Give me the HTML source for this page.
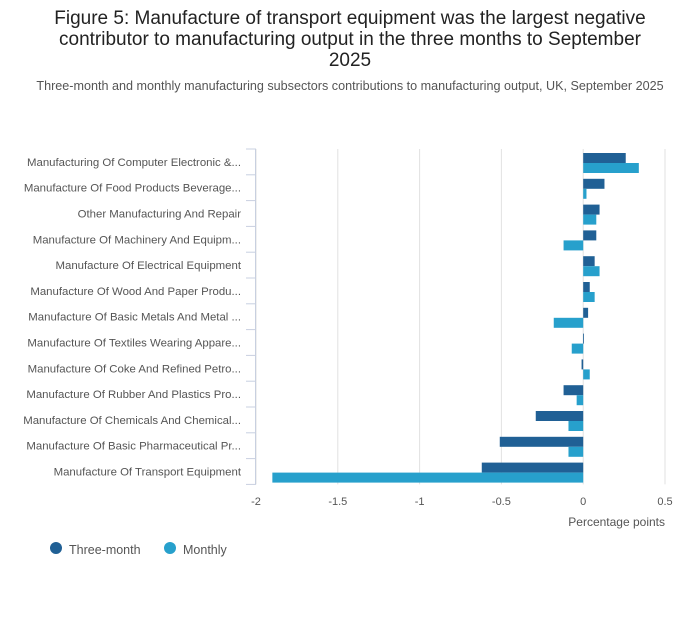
<!DOCTYPE html>
<html><head><meta charset="utf-8"><style>
body{margin:0;background:#fff;font-family:"Liberation Sans",sans-serif;}
svg text{font-family:"Liberation Sans",sans-serif;}
</style></head><body>
<svg width="700" height="635">
<text x="350" y="24" text-anchor="middle" font-size="19" fill="#222">Figure 5: Manufacture of transport equipment was the largest negative</text>
<text x="350" y="45" text-anchor="middle" font-size="19" fill="#222">contributor to manufacturing output in the three months to September</text>
<text x="350" y="66" text-anchor="middle" font-size="19" fill="#222">2025</text>
<text x="350" y="90" text-anchor="middle" font-size="12.6" fill="#555">Three-month and monthly manufacturing subsectors contributions to manufacturing output, UK, September 2025</text>
<g id="grid"></g><g id="bars"></g><g id="yaxis"></g><g id="xaxis"></g>
<text x="665" y="526" text-anchor="end" font-size="12" fill="#555">Percentage points</text>
<circle cx="56" cy="548" r="6" fill="#206095"/>
<text x="69" y="554" font-size="12.5" fill="#555">Three-month</text>
<circle cx="170" cy="548" r="6" fill="#27a0cc"/>
<text x="183" y="554" font-size="12.5" fill="#555">Monthly</text>
</svg>
<script>
const categories=["Manufacturing Of Computer Electronic &...","Manufacture Of Food Products Beverage...","Other Manufacturing And Repair","Manufacture Of Machinery And Equipm...","Manufacture Of Electrical Equipment","Manufacture Of Wood And Paper Produ...","Manufacture Of Basic Metals And Metal ...","Manufacture Of Textiles Wearing Appare...","Manufacture Of Coke And Refined Petro...","Manufacture Of Rubber And Plastics Pro...","Manufacture Of Chemicals And Chemical...","Manufacture Of Basic Pharmaceutical Pr...","Manufacture Of Transport Equipment"];
const threeMonth=[0.26,0.13,0.10,0.08,0.07,0.04,0.03,0.0,-0.01,-0.12,-0.29,-0.51,-0.62];
const monthly=[0.34,0.02,0.08,-0.12,0.10,0.07,-0.18,-0.07,0.04,-0.04,-0.09,-0.09,-1.90];
const xTicks=[-2,-1.5,-1,-0.5,0,0.5];
const xTickLabels=["-2","-1.5","-1","-0.5","0","0.5"];
const NS="http://www.w3.org/2000/svg";
const x0=256,x1=665,vmin=-2,vmax=0.5,plotTop=149,band=25.8;
const X=v=>x0+(v-vmin)/(vmax-vmin)*(x1-x0);
const Y=i=>plotTop+i*band;
function mk(t,a,p){const e=document.createElementNS(NS,t);for(const k in a)e.setAttribute(k,a[k]);document.getElementById(p).appendChild(e);return e;}
const plotBottom=Y(categories.length);
xTicks.forEach((t,i)=>{
 const g=mk("line",{x1:X(t),x2:X(t),y1:plotTop,y2:plotBottom,stroke:"#e2e2e2","stroke-width":1},"grid");
 
 
 const tx=mk("text",{x:X(t),y:505,"text-anchor":"middle","font-size":"11","fill":"#555"},"xaxis");
 tx.textContent=xTickLabels[i];
 
 
});
const ax=mk("line",{x1:x0-0.5,x2:x0-0.5,y1:plotTop,y2:plotBottom,stroke:"#c8d0e0","stroke-width":1},"yaxis");


for(let i=0;i<=categories.length;i++){
 const tk=mk("line",{x1:x0-10,x2:x0,y1:Y(i),y2:Y(i),stroke:"#c8d0e0","stroke-width":1},"yaxis");
 
 
}
categories.forEach((c,i)=>{
 const t=mk("text",{x:241,y:Y(i)+band/2+4,"text-anchor":"end","font-size":"11.4","fill":"#555"},"yaxis");
 t.textContent=c;
 
 
 const a=threeMonth[i],b=monthly[i];
 const r1=mk("rect",{x:Math.min(X(0),X(a)),y:Y(i)+4,width:Math.max(Math.abs(X(a)-X(0)),0.8),height:10,fill:"#206095"},"bars");
 
 
 const r2=mk("rect",{x:Math.min(X(0),X(b)),y:Y(i)+14,width:Math.max(Math.abs(X(b)-X(0)),0.8),height:10,fill:"#27a0cc"},"bars");
 
 
});
</script>
</body></html>
